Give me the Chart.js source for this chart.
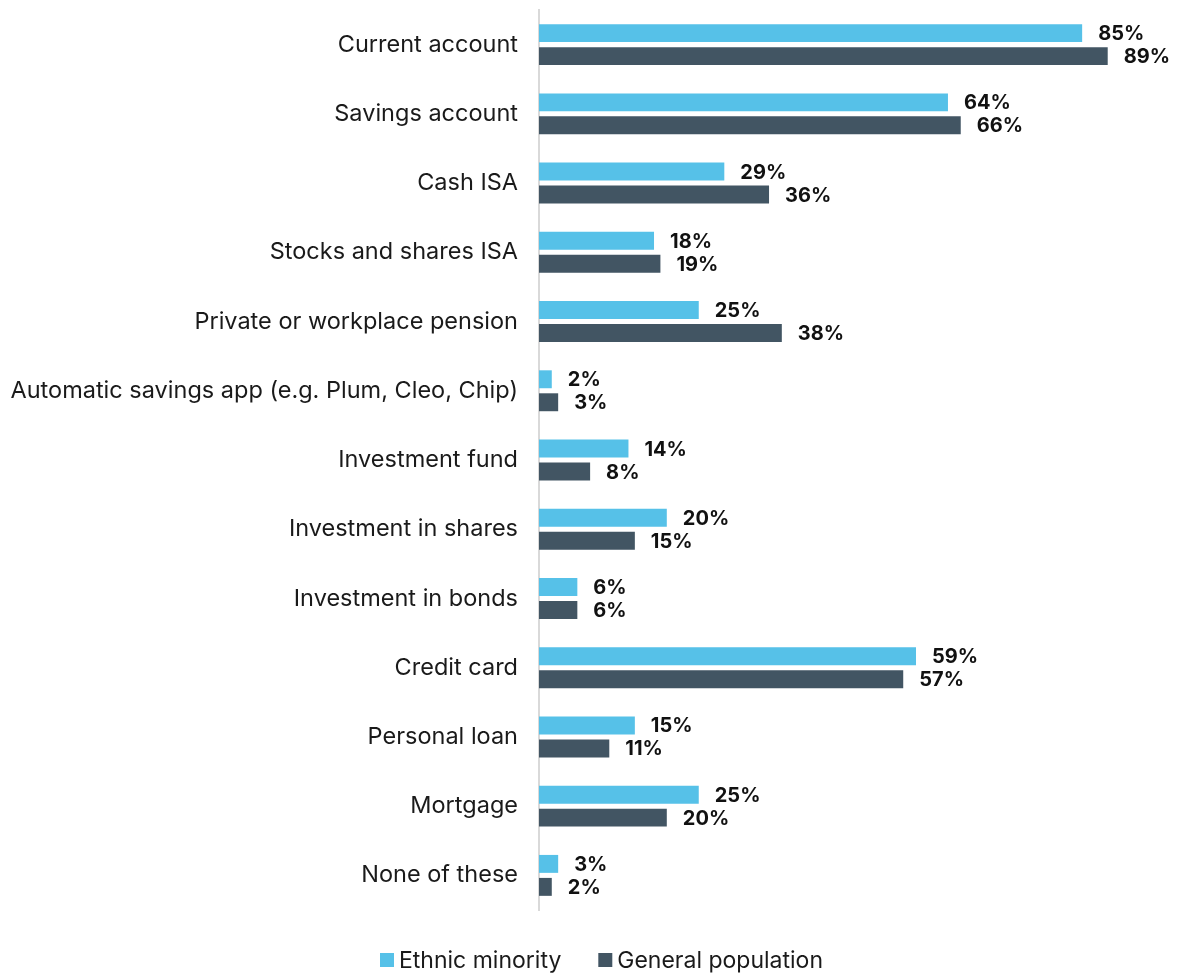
<!DOCTYPE html>
<html>
<head>
<meta charset="utf-8">
<script src="https://cdn.jsdelivr.net/npm/chart.js@4/dist/chart.umd.min.js"></script>
<style>
  html, body { margin: 0; padding: 0; background: #fff; }
  #wrap { width: 1178px; height: 976px; }
</style>
</head>
<body>
<div id="wrap"><canvas id="c" width="1178" height="976"></canvas></div>
<script>
const categories = [
  "Current account",
  "Savings account",
  "Cash ISA",
  "Stocks and shares ISA",
  "Private or workplace pension",
  "Automatic savings app (e.g. Plum, Cleo, Chip)",
  "Investment fund",
  "Investment in shares",
  "Investment in bonds",
  "Credit card",
  "Personal loan",
  "Mortgage",
  "None of these"
];
const ethnicMinority = [85, 64, 29, 18, 25, 2, 14, 20, 6, 59, 15, 25, 3];
const generalPopulation = [89, 66, 36, 19, 38, 3, 8, 15, 6, 57, 11, 20, 2];
const seriesNames = ["Ethnic minority", "General population"];
const seriesColors = ["#56c1e8", "#425563"];

const FONT = "Inter, 'Noto Sans', sans-serif";

const valueLabels = {
  id: 'valueLabels',
  afterDatasetsDraw(chart) {
    const ctx = chart.ctx;
    ctx.save();
    ctx.font = "bold 20px " + FONT;
    ctx.fillStyle = "#111111";
    ctx.textAlign = "left";
    ctx.textBaseline = "middle";
    chart.data.datasets.forEach((ds, i) => {
      const meta = chart.getDatasetMeta(i);
      meta.data.forEach((bar, j) => {
        ctx.fillText(ds.data[j] + "%", bar.x + 16, bar.y + 1);
      });
    });
    ctx.restore();
  }
};

const customLegend = {
  id: 'customLegend',
  afterDraw(chart) {
    const ctx = chart.ctx;
    ctx.save();
    ctx.font = "23px " + FONT;
    ctx.textBaseline = "middle";
    ctx.textAlign = "left";
    const box = 14, gapText = 5, gapItem = 37;
    const ds = chart.data.datasets;
    let x = 380;
    const cy = 960;
    ds.forEach((d, i) => {
      ctx.fillStyle = d.backgroundColor;
      ctx.fillRect(x, cy - box / 2, box, box);
      x += box + gapText;
      ctx.fillStyle = "#1a1a1a";
      ctx.fillText(d.label, x, cy + 1);
      x += ctx.measureText(d.label).width + gapItem;
    });
    ctx.restore();
  }
};

new Chart(document.getElementById('c'), {
  type: 'bar',
  data: {
    labels: categories,
    datasets: [
      { label: seriesNames[0], data: ethnicMinority, backgroundColor: seriesColors[0] },
      { label: seriesNames[1], data: generalPopulation, backgroundColor: seriesColors[1] }
    ]
  },
  options: {
    indexAxis: 'y',
    responsive: false,
    animation: false,
    devicePixelRatio: 1,
    categoryPercentage: 0.664,
    barPercentage: 0.78,
    layout: { padding: { top: 10, bottom: 66, left: 0, right: 0 } },
    scales: {
      x: { display: false, min: 0, max: 100 },
      y: {
        afterFit(scale) { scale.width = 539; scale.paddingTop = 0; scale.paddingBottom = 0; },
        grid: { display: false, drawTicks: false },
        border: { display: true, color: '#d9d9d9', width: 2 },
        ticks: { padding: 21, color: '#1a1a1a', font: { family: FONT, size: 23.5 } }
      }
    },
    plugins: {
      legend: { display: false },
      tooltip: { enabled: false }
    }
  },
  plugins: [valueLabels, customLegend]
});
</script>
</body>
</html>
